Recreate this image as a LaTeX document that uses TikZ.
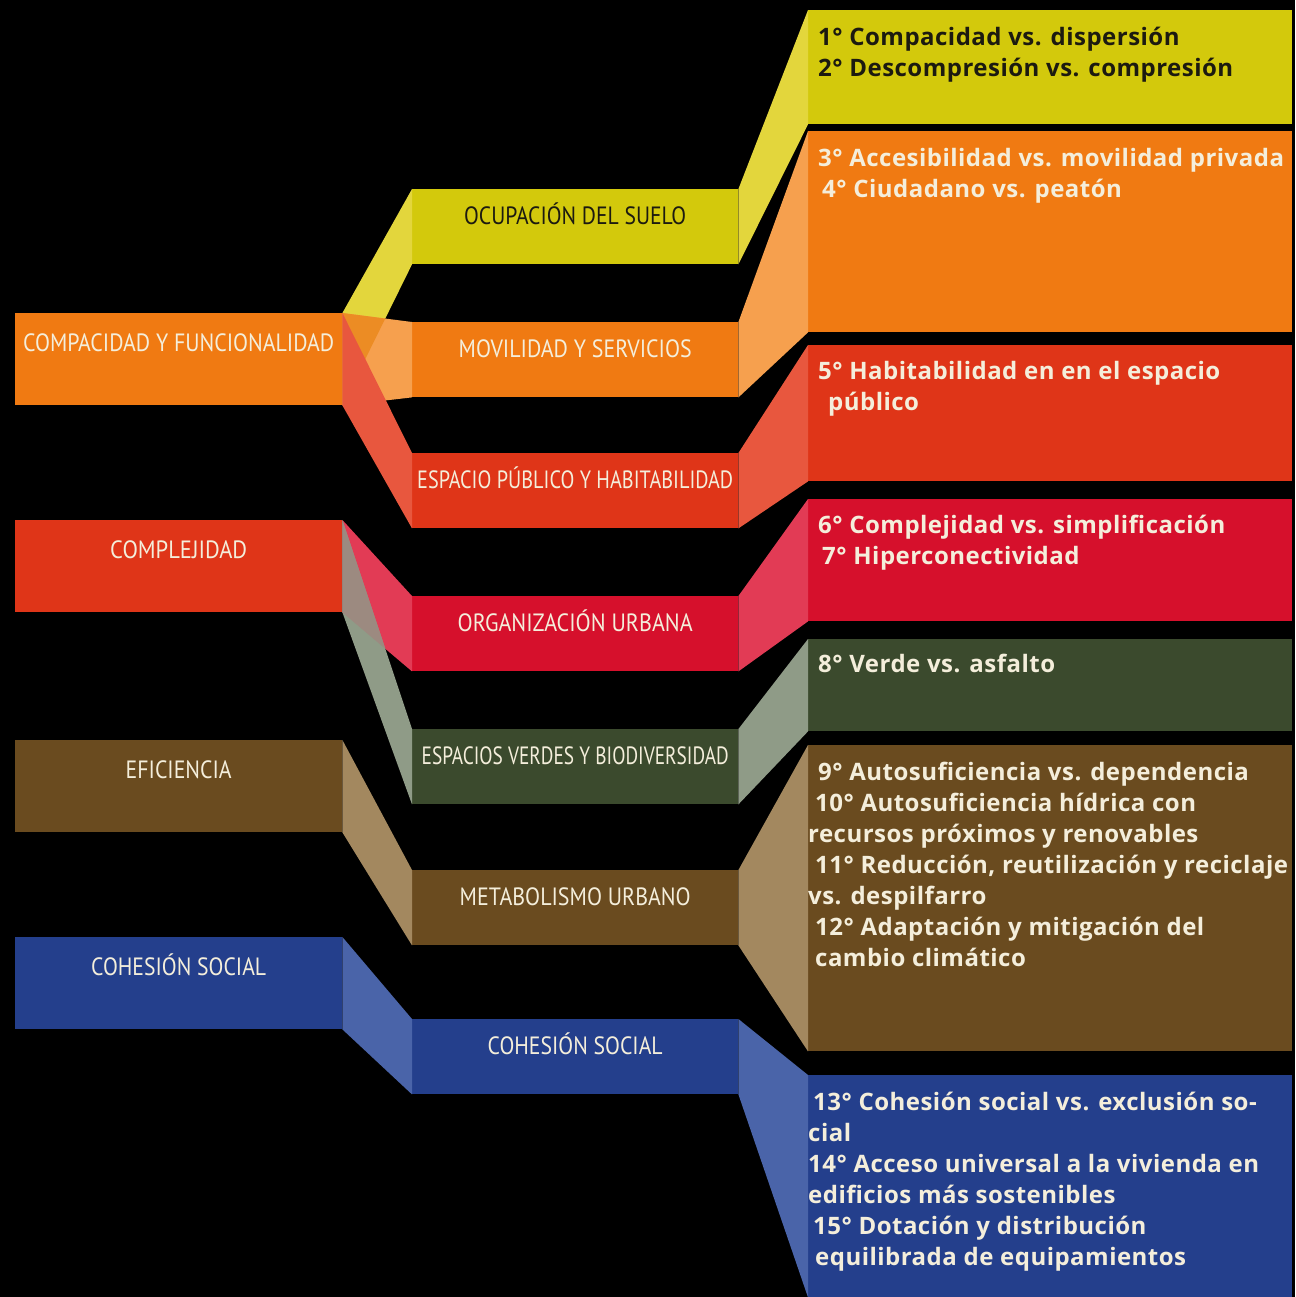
\documentclass[tikz,border=0pt]{standalone}
\usepackage{fontspec}
\setmainfont{PT Sans}
\newfontfamily\itemfont[LetterSpace=2]{Open Sans}
\usepackage{graphicx}

\definecolor{yelB}{HTML}{D3C90C}
\definecolor{yelR}{HTML}{E3D63C}
\definecolor{oraB}{HTML}{F07A12}
\definecolor{oraR}{HTML}{F6A04E}
\definecolor{oraD}{HTML}{EC8C24}
\definecolor{redB}{HTML}{DF3518}
\definecolor{redR}{HTML}{E8573E}
\definecolor{crimB}{HTML}{D6102C}
\definecolor{crimR}{HTML}{E23B55}
\definecolor{grnB}{HTML}{3B4A2D}
\definecolor{grnR}{HTML}{8F9B87}
\definecolor{grnD}{HTML}{9C8A80}
\definecolor{brnB}{HTML}{6A4B1F}
\definecolor{brnR}{HTML}{A3885F}
\definecolor{bluB}{HTML}{243F8C}
\definecolor{bluR}{HTML}{4A64A9}
\definecolor{cream}{HTML}{F4EEDB}
\definecolor{dark}{HTML}{1C1A10}

% squeeze a label to the width it has in the chart
\newcommand{\fitw}[2]{\resizebox{#1pt}{\height}{#2}}

\begin{document}
\begin{tikzpicture}[x=1pt,y=-1pt]
	\tikzstyle{leftbox} = [rectangle, anchor=north west, inner sep=0pt, minimum width=327pt, text height=38pt, text depth=54pt, text=cream, font=\fontsize{25}{30}\selectfont]
	\tikzstyle{midbox} = [rectangle, anchor=north west, inner sep=0pt, minimum width=326pt, text height=35pt, text depth=40pt, text=cream, font=\fontsize{25}{30}\selectfont]
	\tikzstyle{rightbox} = [rectangle, anchor=north west, inner sep=0pt, minimum width=484pt]
	\tikzstyle{righttext} = [anchor=north west, inner sep=0pt, align=left, text=cream, font=\itemfont\bfseries\fontsize{24}{31}\selectfont]

	\useasboundingbox (0,0) rectangle (1295,1297);
	\fill[black] (0,0) rectangle (1295,1297);

	% left column
	\node (cf) at (15,313) [leftbox, fill=oraB] {\fitw{311}{COMPACIDAD Y FUNCIONALIDAD}};
	\node (cx) at (15,520) [leftbox, fill=redB] {\fitw{137}{COMPLEJIDAD}};
	\node (ef) at (15,740) [leftbox, fill=brnB] {\fitw{106}{EFICIENCIA}};
	\node (csl) at (15,937) [leftbox, fill=bluB] {\fitw{175}{COHESIÓN SOCIAL}};

	% middle column
	\node (ocu) at (412,189) [midbox, fill=yelB, text=dark] {\fitw{222}{OCUPACIÓN DEL SUELO}};
	\node (mov) at (412,322) [midbox, fill=oraB] {\fitw{233}{MOVILIDAD Y SERVICIOS}};
	\node (esp) at (412,453) [midbox, fill=redB] {\fitw{316}{ESPACIO PÚBLICO Y HABITABILIDAD}};
	\node (org) at (412,596) [midbox, fill=crimB] {\fitw{235}{ORGANIZACIÓN URBANA}};
	\node (ver) at (412,729) [midbox, fill=grnB] {\fitw{307}{ESPACIOS VERDES Y BIODIVERSIDAD}};
	\node (met) at (412,870) [midbox, fill=brnB] {\fitw{231}{METABOLISMO URBANO}};
	\node (csm) at (412,1019) [midbox, fill=bluB] {\fitw{175}{COHESIÓN SOCIAL}};

	% right column
	\node (r1) at (808,10) [rightbox, minimum height=114pt, fill=yelB] {};
	\node (r2) at (808,131) [rightbox, minimum height=201pt, fill=oraB] {};
	\node (r3) at (808,345) [rightbox, minimum height=136pt, fill=redB] {};
	\node (r4) at (808,499) [rightbox, minimum height=122pt, fill=crimB] {};
	\node (r5) at (808,639) [rightbox, minimum height=92pt, fill=grnB] {};
	\node (r6) at (808,745) [rightbox, minimum height=306pt, fill=brnB] {};
	\node (r7) at (808,1075) [rightbox, minimum height=222pt, fill=bluB] {};

	% ribbons left -> middle
	\fill[yelR] (cf.north east) -- (ocu.north west) -- (ocu.south west) -- (cf.south east) -- cycle;
	\fill[oraR] (cf.north east) -- (mov.north west) -- (mov.south west) -- (cf.south east) -- cycle;
	\begin{scope}
		\clip (cf.north east) -- (ocu.north west) -- (ocu.south west) -- (cf.south east) -- cycle;
		\fill[oraD] (cf.north east) -- (mov.north west) -- (mov.south west) -- (cf.south east) -- cycle;
	\end{scope}
	\fill[redR] (cf.north east) -- (esp.north west) -- (esp.south west) -- (cf.south east) -- cycle;

	\fill[crimR] (cx.north east) -- (org.north west) -- (org.south west) -- (cx.south east) -- cycle;
	\fill[grnR] (cx.north east) -- (ver.north west) -- (ver.south west) -- (cx.south east) -- cycle;
	\begin{scope}
		\clip (cx.north east) -- (org.north west) -- (org.south west) -- (cx.south east) -- cycle;
		\fill[grnD] (cx.north east) -- (ver.north west) -- (ver.south west) -- (cx.south east) -- cycle;
	\end{scope}

	\fill[brnR] (ef.north east) -- (met.north west) -- (met.south west) -- (ef.south east) -- cycle;
	\fill[bluR] (csl.north east) -- (csm.north west) -- (csm.south west) -- (csl.south east) -- cycle;

	% ribbons middle -> right
	\fill[yelR] (ocu.north east) -- (r1.north west) -- (r1.south west) -- (ocu.south east) -- cycle;
	\fill[oraR] (mov.north east) -- (r2.north west) -- (r2.south west) -- (mov.south east) -- cycle;
	\fill[redR] (esp.north east) -- (r3.north west) -- (r3.south west) -- (esp.south east) -- cycle;
	\fill[crimR] (org.north east) -- (r4.north west) -- (r4.south west) -- (org.south east) -- cycle;
	\fill[grnR] (ver.north east) -- (r5.north west) -- (r5.south west) -- (ver.south east) -- cycle;
	\fill[brnR] (met.north east) -- (r6.north west) -- (r6.south west) -- (met.south east) -- cycle;
	\fill[bluR] (csm.north east) -- (r7.north west) -- (r7.south west) -- (csm.south east) -- cycle;

	% texts of the right column
	\node (t1) at (818,27) [righttext, text=dark] {1° Compacidad vs. dispersión\\2° Descompresión vs. compresión};
	\node (t2) at (818,148) [righttext] {3° Accesibilidad vs. movilidad privada\\\hspace*{4pt}4° Ciudadano vs. peatón};
	\node (t3) at (818,361) [righttext] {5° Habitabilidad en en el espacio\\\hspace*{10pt}público};
	\node (t4) at (818,515) [righttext] {6° Complejidad vs. simplificación\\\hspace*{4pt}7° Hiperconectividad};
	\node (t5) at (818,654) [righttext] {8° Verde vs. asfalto};
	\node (t6) at (808,762) [righttext] {\hspace*{10pt}9° Autosuficiencia vs. dependencia\\\hspace*{7pt}10° Autosuficiencia hídrica con\\recursos próximos y renovables\\\hspace*{7pt}11° Reducción, reutilización y reciclaje\\vs. despilfarro\\\hspace*{7pt}12° Adaptación y mitigación del\\\hspace*{7pt}cambio climático};
	\node (t7) at (808,1092) [righttext] {\hspace*{5pt}13° Cohesión social vs. exclusión so-\\cial\\14° Acceso universal a la vivienda en\\edificios más sostenibles\\\hspace*{5pt}15° Dotación y distribución\\\hspace*{7pt}equilibrada de equipamientos};

\end{tikzpicture}
\end{document}
